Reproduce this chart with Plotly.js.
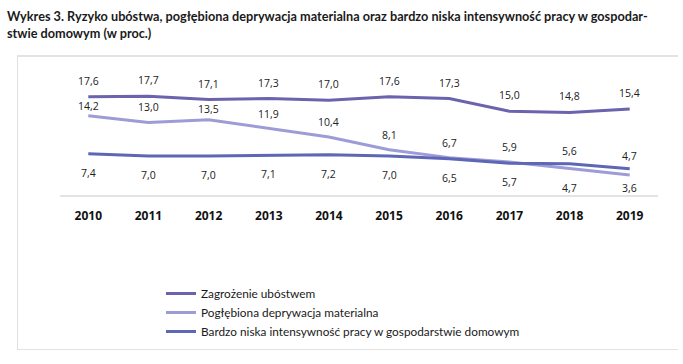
<!DOCTYPE html>
<html>
<head>
<meta charset="utf-8">
<script src="https://cdn.plot.ly/plotly-3.0.1.min.js"></script>
<style>
html,body{margin:0;padding:0;background:#fff;}
#wrap{position:relative;width:683px;height:364px;}
#chart{width:683px;height:364px;}
#frame{position:absolute;left:17px;top:55px;width:660px;height:292px;border-left:1.5px solid #e0e0e0;border-top:2px solid #e3e3e3;border-bottom:1.5px solid #e3e3e3;pointer-events:none;}
</style>
</head>
<body>
<div id="wrap"><div id="chart"></div><div id="frame"></div></div>
<script>
var years = [2010, 2011, 2012, 2013, 2014, 2015, 2016, 2017, 2018, 2019];
var yearLabels = ['2010','2011','2012','2013','2014','2015','2016','2017','2018','2019'];
var riskPoverty = [17.6, 17.7, 17.1, 17.3, 17.0, 17.6, 17.3, 15.0, 14.8, 15.4];
var deprivation = [14.2, 13.0, 13.5, 11.9, 10.4, 8.1, 6.7, 5.9, 4.7, 3.6];
var lowIntensity = [7.4, 7.0, 7.0, 7.1, 7.2, 7.0, 6.5, 5.7, 5.6, 4.7];
var seriesNames = ['Zagrożenie ubóstwem', 'Pogłębiona deprywacja materialna', 'Bardzo niska intensywność pracy w gospodarstwie domowym'];
var titleText = 'Wykres 3. Ryzyko ubóstwa, pogłębiona deprywacja materialna oraz bardzo niska intensywność pracy w gospodar-<br>stwie domowym (w proc.)';

var colors = ['#6b63ad', '#9d9cd6', '#5e66b6'];
var narrow = 'Lato, sans-serif';
var labelFont = {family: '"Open Sans", sans-serif', size: 10.5, color: '#222'};

var plotTop = 84, plotBottom = 195, plotH = plotBottom - plotTop;
var plotL = 60, plotR = 658, plotW = plotR - plotL;
var yMax = 19.9, pxPerUnit = plotH / yMax;
function py(pix){ return (plotBottom - pix) / plotH; }
function px(pix){ return (pix - plotL) / plotW; }

function fmt(v){ return v.toFixed(1).replace('.', ','); }

var traces = [riskPoverty, deprivation, lowIntensity].map(function(vals, i){
  return {x: years, y: vals, type: 'scatter', mode: 'lines', name: seriesNames[i],
    line: {color: colors[i], width: 3}, hoverinfo: 'skip'};
});

var annotations = [];
years.forEach(function(yr, k){
  annotations.push({x: yr, y: riskPoverty[k], text: fmt(riskPoverty[k]), showarrow: false, yshift: 16, font: labelFont});
  var depAbove = deprivation[k] >= lowIntensity[k] + 0.15;
  var aboveShift = Math.min(15, (riskPoverty[k] - deprivation[k]) * pxPerUnit - 9);
  var depBelowShift = -Math.min(19, deprivation[k] * pxPerUnit - 7);
  annotations.push({x: yr, y: deprivation[k], text: fmt(deprivation[k]), showarrow: false,
    yshift: depAbove ? aboveShift : depBelowShift, font: labelFont});
  annotations.push({x: yr, y: lowIntensity[k], text: fmt(lowIntensity[k]), showarrow: false,
    yshift: depAbove ? -19 : 13, font: labelFont});
});
annotations.push({xref: 'paper', yref: 'paper', x: px(5), y: py(6), xanchor: 'left', yanchor: 'top', align: 'left',
  showarrow: false, text: '<b>' + titleText + '</b>', font: {family: narrow, size: 12.7, color: '#1a1a1a'}});

var layout = {
  width: 683, height: 364,
  margin: {l: plotL, r: 683 - plotR, t: plotTop, b: 364 - plotBottom, pad: 0},
  paper_bgcolor: 'rgba(0,0,0,0)', plot_bgcolor: 'rgba(0,0,0,0)',
  xaxis: {
    range: [2009.53, 2019.47], tickmode: 'array', tickvals: years,
    ticktext: yearLabels.map(function(t){ return '<b>' + t + '</b>'; }),
    tickfont: {family: '"Open Sans", sans-serif', size: 12, color: '#111'},
    showgrid: false, zeroline: false, showline: true, linecolor: '#e3e3e3', linewidth: 1.5,
    ticks: 'outside', ticklen: 9, tickcolor: 'rgba(0,0,0,0)'
  },
  yaxis: {range: [0, yMax], visible: false, showgrid: false, zeroline: false},
  showlegend: true,
  legend: {
    x: px(161), xanchor: 'left', y: py(279), yanchor: 'top',
    font: {family: narrow, size: 11.8, color: '#1a1a1a'},
    itemwidth: 30, bgcolor: 'rgba(0,0,0,0)', tracegroupgap: 0
  },
  annotations: annotations
};

Plotly.newPlot('chart', traces, layout, {displayModeBar: false, staticPlot: true});
</script>
</body>
</html>
